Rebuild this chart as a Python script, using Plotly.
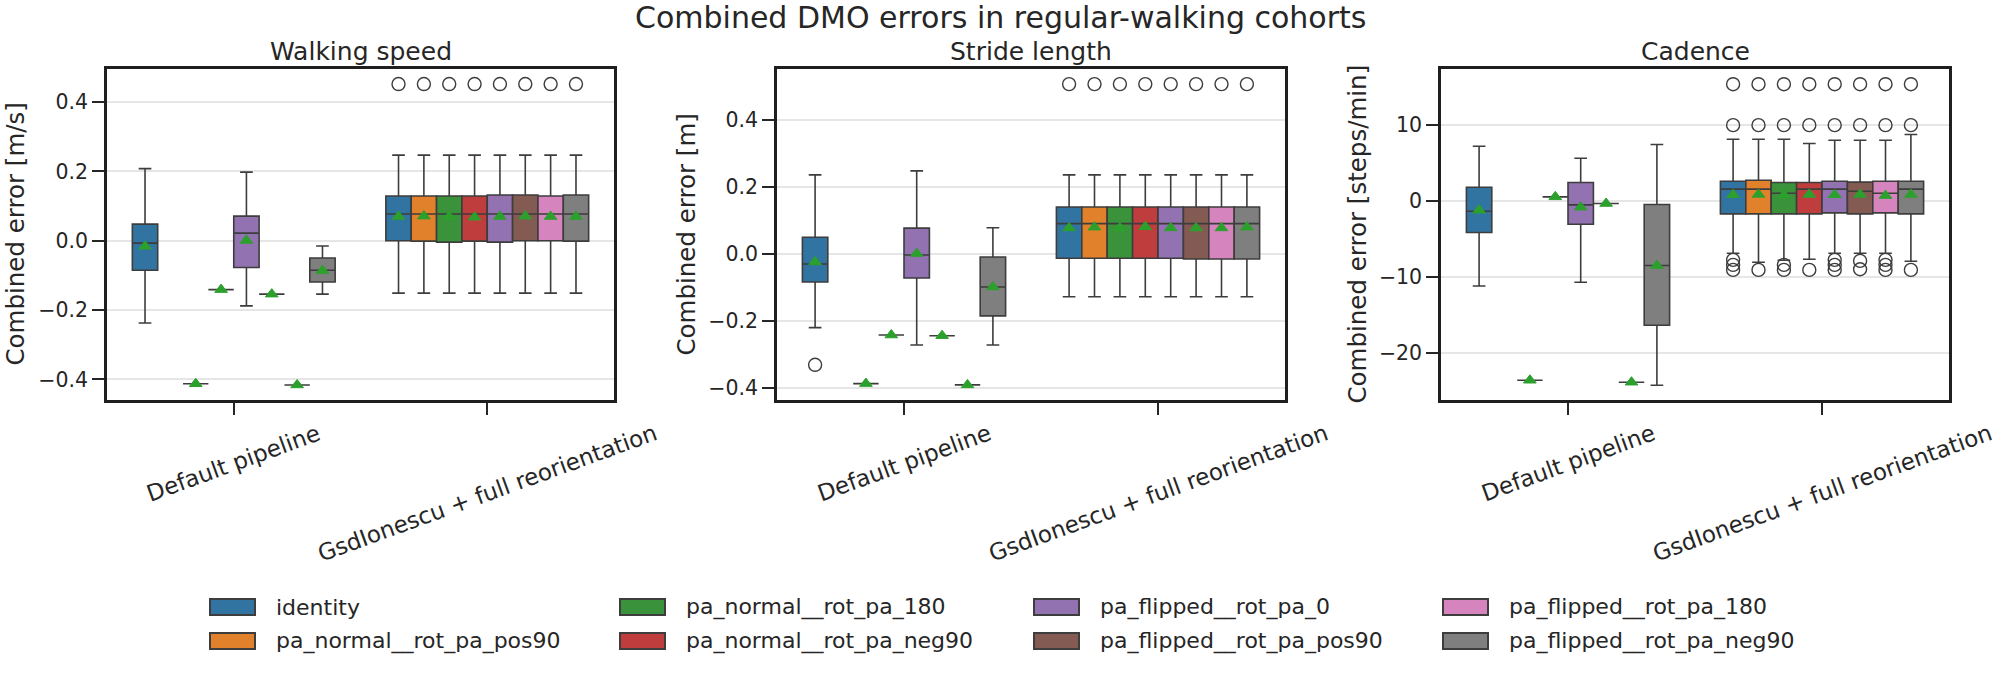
import plotly.graph_objects as go

# ---------------- data ----------------
HUES = ["identity", "pa_normal__rot_pa_pos90", "pa_normal__rot_pa_180", "pa_normal__rot_pa_neg90",
        "pa_flipped__rot_pa_0", "pa_flipped__rot_pa_pos90", "pa_flipped__rot_pa_180", "pa_flipped__rot_pa_neg90"]
GROUPS = ["Default pipeline", "GsdIonescu + full reorientation"]
COLORS = ["#3274a1", "#e1812c", "#3a923a", "#c03d3e", "#9372b2", "#845b53", "#d684bd", "#7f7f7f"]
PANEL_TITLES = ["Walking speed", "Stride length", "Cadence"]
Y_LABELS = ["Combined error [m/s]", "Combined error [m]", "Combined error [steps/min]"]
SUPTITLE = "Combined DMO errors in regular-walking cohorts"

# Walking speed [m/s]: [default pipeline, GsdIonescu] x 8 hues
ws_lo = [[-0.2375, None, -0.4125, -0.141, -0.188, -0.154, -0.416, -0.154],
         [-0.151, -0.151, -0.151, -0.151, -0.151, -0.151, -0.151, -0.151]]
ws_q1 = [[-0.085, None, -0.4125, -0.141, -0.077, -0.154, -0.416, -0.119],
         [0.0, -0.001, -0.004, -0.001, -0.004, 0.0, 0.0, -0.001]]
ws_med = [[-0.007, None, -0.4125, -0.141, 0.022, -0.154, -0.416, -0.085],
          [0.077, 0.077, 0.077, 0.077, 0.077, 0.077, 0.077, 0.077]]
ws_q3 = [[0.048, None, -0.4125, -0.141, 0.071, -0.154, -0.416, -0.050],
         [0.129, 0.129, 0.129, 0.129, 0.132, 0.132, 0.129, 0.132]]
ws_hi = [[0.208, None, -0.4125, -0.141, 0.198, -0.154, -0.416, -0.015],
         [0.247, 0.247, 0.247, 0.247, 0.247, 0.247, 0.247, 0.247]]
ws_mean = [[-0.016, None, -0.4125, -0.141, 0.001, -0.154, -0.416, -0.086],
           [0.070, 0.071, 0.069, 0.068, 0.070, 0.071, 0.070, 0.070]]
ws_out = [[[], [], [], [], [], [], [], []],
          [[0.452], [0.452], [0.452], [0.452], [0.452], [0.452], [0.452], [0.452]]]

# Stride length [m]
sl_lo = [[-0.221, None, -0.388, -0.243, -0.273, -0.245, -0.392, -0.273],
         [-0.129, -0.129, -0.129, -0.129, -0.129, -0.129, -0.129, -0.129]]
sl_q1 = [[-0.085, None, -0.388, -0.243, -0.073, -0.245, -0.392, -0.186],
         [-0.014, -0.014, -0.014, -0.014, -0.014, -0.016, -0.016, -0.016]]
sl_med = [[-0.031, None, -0.388, -0.243, -0.004, -0.245, -0.392, -0.0995],
          [0.0896, 0.0896, 0.0896, 0.0896, 0.0896, 0.0896, 0.0896, 0.0896]]
sl_q3 = [[0.049, None, -0.388, -0.243, 0.076, -0.245, -0.392, -0.010],
         [0.139, 0.139, 0.139, 0.139, 0.139, 0.139, 0.139, 0.139]]
sl_hi = [[0.235, None, -0.388, -0.243, 0.247, -0.245, -0.392, 0.077],
         [0.235, 0.235, 0.235, 0.235, 0.235, 0.235, 0.235, 0.235]]
sl_mean = [[-0.025, None, -0.388, -0.243, 0.000, -0.245, -0.392, -0.0995],
           [0.0766, 0.079, 0.0766, 0.080, 0.0766, 0.0766, 0.0766, 0.079]]
sl_out = [[[-0.332], [], [], [], [], [], [], []],
          [[0.506], [0.506], [0.506], [0.506], [0.506], [0.506], [0.506], [0.506]]]

# Cadence [steps/min]
cd_lo = [[-11.2, None, -23.6, 0.53, -10.7, -0.35, -23.86, -24.25],
         [-6.89, -8.07, -7.81, -7.68, -6.89, -6.89, -6.89, -7.94]]
cd_q1 = [[-4.17, None, -23.6, 0.53, -3.07, -0.35, -23.86, -16.36],
         [-1.71, -1.71, -1.71, -1.71, -1.58, -1.71, -1.58, -1.71]]
cd_med = [[-1.36, None, -23.6, 0.53, -0.53, -0.35, -23.86, -8.51],
          [1.54, 1.54, 1.0, 1.54, 1.54, 1.27, 1.0, 1.54]]
cd_q3 = [[1.80, None, -23.6, 0.53, 2.41, -0.35, -23.86, -0.48],
         [2.59, 2.72, 2.41, 2.41, 2.59, 2.46, 2.59, 2.59]]
cd_hi = [[7.19, None, -23.6, 0.53, 5.61, -0.35, -23.86, 7.41],
         [8.11, 8.11, 8.11, 7.54, 7.98, 7.98, 7.98, 8.73]]
cd_mean = [[-1.23, None, -23.6, 0.53, -0.83, -0.35, -23.86, -8.5],
           [0.80, 0.85, 0.75, 0.85, 0.80, 0.85, 0.70, 0.85]]
cd_out = [[[], [], [], [], [], [], [], []],
          [[15.35, 9.96, -7.76, -8.42, -9.08], [15.35, 9.96, -9.08], [15.35, 9.96, -8.42, -9.08],
           [15.35, 9.96, -9.08], [15.35, 9.96, -7.76, -8.42, -9.08], [15.35, 9.96, -7.9, -9.0],
           [15.35, 9.96, -7.76, -8.42, -9.08], [15.35, 9.96, -9.08]]]

# tick labels
ws_ticks = [-0.4, -0.2, 0.0, 0.2, 0.4]
ws_ticktext = ["\u22120.4", "\u22120.2", "0.0", "0.2", "0.4"]
sl_ticks = [-0.4, -0.2, 0.0, 0.2, 0.4]
sl_ticktext = ["\u22120.4", "\u22120.2", "0.0", "0.2", "0.4"]
cd_ticks = [-20, -10, 0, 10]
cd_ticktext = ["\u221220", "\u221210", "0", "10"]

# ---------------- layout geometry (pixels) ----------------
W, H = 2000, 700
PX_LEFT = [107, 777, 1441]
PX_RIGHT = [614, 1285, 1949]
PX_TOP, PX_BOTTOM = 69, 400
YLABEL_X = [15, 686, 1357]
Y_RANGES = [[-0.4594, 0.4954], [-0.437, 0.551], [-26.2, 17.35]]
TEXT = "#262626"
EDGE = "#3d3d3d"
FONT = "DejaVu Sans"
HUE_W = 0.1


def px_x(p):
    return p / W


def px_y(p):
    return 1 - p / H


panels = [
    (ws_lo, ws_q1, ws_med, ws_q3, ws_hi, ws_mean, ws_out, ws_ticks, ws_ticktext),
    (sl_lo, sl_q1, sl_med, sl_q3, sl_hi, sl_mean, sl_out, sl_ticks, sl_ticktext),
    (cd_lo, cd_q1, cd_med, cd_q3, cd_hi, cd_mean, cd_out, cd_ticks, cd_ticktext),
]

fig = go.Figure()
annotations = []
shapes = []

for k, (lo, q1, med, q3, hi, mean, out, ticks, ticktext) in enumerate(panels):
    xa = "x" if k == 0 else f"x{k + 1}"
    ya = "y" if k == 0 else f"y{k + 1}"
    # boxes
    for h in range(len(HUES)):
        xs, bq1, bmed, bq3, blo, bhi = [], [], [], [], [], []
        for g in range(len(GROUPS)):
            if med[g][h] is None:
                continue
            xs.append(g + (h - 3.5) * HUE_W)
            bq1.append(q1[g][h]); bmed.append(med[g][h]); bq3.append(q3[g][h])
            blo.append(lo[g][h]); bhi.append(hi[g][h])
        fig.add_trace(go.Box(
            x=xs, q1=bq1, median=bmed, q3=bq3, lowerfence=blo, upperfence=bhi,
            width=HUE_W, whiskerwidth=0.5, fillcolor=COLORS[h],
            line=dict(color=EDGE, width=1.6), boxpoints=False,
            name=HUES[h], showlegend=False, hoverinfo="skip",
            xaxis=xa, yaxis=ya))
    # outliers
    ox, oy = [], []
    for g in range(len(GROUPS)):
        for h in range(len(HUES)):
            for v in out[g][h]:
                ox.append(g + (h - 3.5) * HUE_W)
                oy.append(v)
    fig.add_trace(go.Scatter(
        x=ox, y=oy, mode="markers",
        marker=dict(symbol="circle-open", size=13, color=EDGE, line=dict(width=1.4, color=EDGE)),
        showlegend=False, hoverinfo="skip", xaxis=xa, yaxis=ya))
    # means
    mx, my = [], []
    for g in range(len(GROUPS)):
        for h in range(len(HUES)):
            if mean[g][h] is not None:
                mx.append(g + (h - 3.5) * HUE_W)
                my.append(mean[g][h])
    fig.add_trace(go.Scatter(
        x=mx, y=my, mode="markers",
        marker=dict(symbol="triangle-up", size=11, color="#2ca02c", line=dict(width=1, color="#2ca02c")),
        showlegend=False, hoverinfo="skip", xaxis=xa, yaxis=ya))

    dom_x = [px_x(PX_LEFT[k]), px_x(PX_RIGHT[k])]
    dom_y = [px_y(PX_BOTTOM), px_y(PX_TOP)]
    fig.update_layout(**{
        ("xaxis" if k == 0 else f"xaxis{k + 1}"): dict(
            domain=dom_x, range=[-0.5, 1.5], tickvals=list(range(len(GROUPS))),
            showticklabels=False, ticks="outside", ticklen=12, tickwidth=2, tickcolor=TEXT,
            showline=True, mirror=True, linecolor="#1f1f1f", linewidth=2.5,
            showgrid=False, zeroline=False, anchor=ya),
        ("yaxis" if k == 0 else f"yaxis{k + 1}"): dict(
            domain=dom_y, range=Y_RANGES[k], tickvals=ticks, ticktext=ticktext,
            ticks="outside", ticklen=12, tickwidth=2, tickcolor=TEXT,
            tickfont=dict(family=FONT, size=20.5, color=TEXT),
            showline=True, mirror=True, linecolor="#1f1f1f", linewidth=2.5,
            showgrid=True, gridcolor="#e6e6e6", gridwidth=2, zeroline=False, anchor=xa),
    })
    # dotted zero reference line
    shapes.append(dict(type="line", xref="paper", yref=ya, x0=dom_x[0], x1=dom_x[1], y0=0, y1=0,
                       line=dict(color="#8a8a8a", width=1.3, dash="dot"), layer="below"))
    # panel title
    annotations.append(dict(text=PANEL_TITLES[k], xref="paper", yref="paper",
                            x=(dom_x[0] + dom_x[1]) / 2, y=px_y(PX_TOP - 1),
                            xanchor="center", yanchor="bottom", showarrow=False,
                            font=dict(family=FONT, size=25, color=TEXT)))
    # y label
    annotations.append(dict(text=Y_LABELS[k], xref="paper", yref="paper",
                            x=px_x(YLABEL_X[k]), y=px_y((PX_TOP + PX_BOTTOM) / 2),
                            xanchor="center", yanchor="middle", textangle=-90, showarrow=False,
                            font=dict(family=FONT, size=24.5, color=TEXT)))
    # rotated category labels
    for g, label in enumerate(GROUPS):
        annotations.append(dict(text=label, xref=xa, yref="paper", x=g, y=px_y(PX_BOTTOM + 17),
                                xanchor="center", yanchor="top", textangle=-20, showarrow=False,
                                font=dict(family=FONT, size=23, color=TEXT)))

# suptitle
annotations.append(dict(text=SUPTITLE, xref="paper", yref="paper", x=0.5, y=px_y(18),
                        xanchor="center", yanchor="middle", showarrow=False,
                        font=dict(family=FONT, size=30, color=TEXT)))

# legend (4 columns x 2 rows, column-major)
LEG_COL_X = [210, 620, 1034, 1443]
LEG_ROW_Y = [607, 641]
for h, name in enumerate(HUES):
    cx = LEG_COL_X[h // 2]
    cy = LEG_ROW_Y[h % 2]
    shapes.append(dict(type="rect", xref="paper", yref="paper",
                       x0=px_x(cx), x1=px_x(cx + 45), y0=px_y(cy + 8), y1=px_y(cy - 8),
                       fillcolor=COLORS[h], line=dict(color=EDGE, width=2)))
    annotations.append(dict(text=name, xref="paper", yref="paper", x=px_x(cx + 64), y=px_y(cy),
                            xanchor="left", yanchor="middle", showarrow=False,
                            font=dict(family=FONT, size=22, color=TEXT)))

fig.update_layout(
    width=W, height=H, margin=dict(l=0, r=0, t=0, b=0),
    paper_bgcolor="white", plot_bgcolor="white",
    font=dict(family=FONT, color=TEXT),
    showlegend=False, annotations=annotations, shapes=shapes,
)

fig.write_html("out.html")
